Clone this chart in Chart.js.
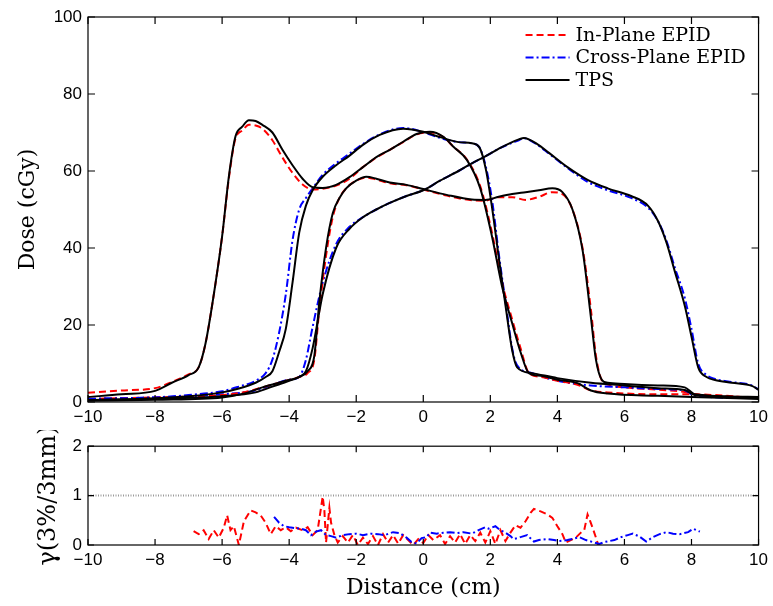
<!DOCTYPE html>
<html>
<head>
<meta charset="utf-8">
<script src="https://cdn.jsdelivr.net/npm/chart.js@4.4.1/dist/chart.umd.min.js"></script>
<style>
  body { margin: 0; background: #fff; width: 773px; height: 606px; overflow: hidden; position: relative; }
  #doseCanvas { position: absolute; left: 0; top: 0; }
  #gammaCanvas { position: absolute; left: 0; top: 430px; }
</style>
</head>
<body>
<canvas id="doseCanvas" width="773" height="430"></canvas>
<canvas id="gammaCanvas" width="773" height="176"></canvas>
<script>
// axis ticks
const DIST_TICKS = [-10, -8, -6, -4, -2, 0, 2, 4, 6, 8, 10];
const DOSE_TICKS = [0, 20, 40, 60, 80, 100];
const GAMMA_TICKS = [0, 1, 2];
const GAMMA_LIMIT = 1;
const SERIES_LABELS = ['In-Plane EPID', 'Cross-Plane EPID', 'TPS'];

// profile 1 (in-plane, left field)
const P1_X    = [-10, -9, -8, -7.5, -7, -6.7, -6.5, -6.3, -6.0, -5.8, -5.6, -5.4, -5.2, -5.0, -4.8, -4.5, -4.2, -3.9, -3.6, -3.3, -3.0, -2.6, -2.2, -1.8, -1.4, -1.0, -0.6, -0.2, 0.2, 0.6, 0.9, 1.3, 1.7, 2.05, 2.35, 2.65, 2.9, 3.15, 3.5, 4.0, 4.6, 5.0, 5.5, 7.0, 8.0, 10];
const P1_TPS  = [1.3, 2.0, 2.9, 5.0, 7.0, 9.0, 15, 25, 43, 58.5, 69, 71.5, 73.2, 73, 72, 70, 65.5, 61.5, 58, 55.8, 55.6, 56.4, 58.4, 61, 63.6, 65.5, 67.6, 69.6, 70.2, 68.9, 66.3, 62.9, 55.5, 43, 30, 20.5, 13, 7.5, 6.8, 5.8, 4.9, 3.0, 2.2, 1.6, 1.3, 0.8];
const P1_EPID = [2.4, 3.0, 3.6, 5.2, 7.2, 9.0, 15, 25, 43, 58, 68.5, 70.5, 72, 71.8, 71, 68, 63.5, 59.5, 56.5, 55.2, 55.4, 56.2, 58, 61, 63.5, 65.5, 67.5, 69.5, 70, 68.8, 66.3, 63, 56, 44, 31, 21.5, 14, 7.5, 6.5, 5.5, 4.5, 3.0, 2.5, 2.0, 2.0, 1.0];

// profile 2 (cross-plane, central field)
const P2_X    = [-10, -8, -7, -6, -5.5, -5, -4.7, -4.5, -4.3, -4.1, -3.9, -3.7, -3.5, -3.3, -3.0, -2.6, -2.2, -1.8, -1.3, -0.6, 0.0, 0.5, 1.05, 1.45, 1.67, 1.87, 2.06, 2.26, 2.47, 2.65, 2.8, 3.25, 4.0, 5.0, 6.0, 7.0, 7.8, 8.1, 10];
const P2_TPS  = [0.5, 1.0, 1.5, 2.5, 3.5, 5, 6.5, 8, 13, 19, 31, 44, 51, 55, 58.5, 61.5, 64, 66.8, 69.4, 71, 70.2, 68.8, 67.5, 67.2, 66.2, 60.3, 50, 37, 24, 13.5, 9, 7.5, 6.2, 5.0, 4.3, 3.6, 3.1, 1.8, 1.2];
const P2_EPID = [0.8, 1.2, 1.8, 2.8, 4, 5.5, 7.5, 11, 18, 28, 42, 50, 53, 55.5, 59, 62, 64.5, 67, 69.5, 71.2, 70.1, 68.6, 67.5, 67.2, 66.2, 61, 52, 38, 25, 14, 9.5, 7.5, 5.5, 4.3, 3.8, 3.4, 3.0, 1.6, 1.0];

// profile 3 (in-plane, flat field)
const P3_X    = [-10, -8, -6, -5.3, -4.8, -4.1, -3.7, -3.45, -3.25, -3.1, -2.9, -2.7, -2.5, -2.3, -2.0, -1.7, -1.4, -1.0, -0.5, 0.0, 0.7, 1.45, 1.85, 2.25, 2.65, 3.05, 3.45, 3.85, 4.15, 4.45, 4.75, 5.0, 5.15, 5.33, 5.5, 6.0, 7.0, 7.8, 8.1, 10];
const P3_TPS  = [0.3, 0.6, 1.2, 2.3, 3.8, 5.5, 6.5, 8, 12, 26, 40, 49, 53, 55.5, 57.5, 58.5, 58, 57, 56.4, 55.3, 53.8, 52.6, 52.5, 53.3, 54, 54.5, 55, 55.5, 54.5, 50, 39.5, 22, 11, 5.7, 5, 4.7, 4.3, 3.8, 2, 1.3];
const P3_EPID = [0.8, 1.2, 1.8, 2.6, 3.8, 5.5, 6.5, 7.5, 11, 24, 38, 48, 53, 55.5, 57.5, 58.3, 57.8, 56.8, 56.3, 55.2, 53.6, 52.4, 52.3, 53.2, 53.2, 52.5, 53.3, 54.5, 54, 50, 40, 24, 12, 5.5, 4.5, 3.8, 3.2, 2.6, 2, 1.2];

// profile 4 (cross-plane, right field)
const P4_X    = [-10, -8, -6, -5, -4.5, -4.0, -3.7, -3.5, -3.3, -3.0, -2.6, -2.2, -1.8, -1.4, -1.0, -0.5, 0.0, 0.5, 1.05, 1.45, 1.85, 2.3, 2.85, 3.0, 3.4, 3.75, 4.3, 4.9, 5.5, 6.2, 6.7, 7.0, 7.25, 7.5, 7.8, 8.0, 8.2, 8.45, 8.7, 9.2, 9.8, 10];
const P4_TPS  = [0.5, 0.8, 1.5, 2.5, 4, 5.5, 6.5, 8, 14, 28, 40, 45, 48, 50, 51.7, 53.5, 55, 57.5, 60, 62, 63.8, 66, 68.2, 68.6, 67, 64.7, 61, 57.7, 55.5, 53.5, 51, 47, 41.5, 34, 25, 17, 9, 6.5, 5.7, 5, 4.2, 3.2];
const P4_EPID = [0.8, 1.2, 2, 3, 4.5, 5.8, 6.5, 11, 19.5, 31, 41, 45.5, 48, 50, 51.7, 53.5, 55, 57.5, 60, 62, 63.8, 66, 68, 68.5, 66.8, 64.5, 60.8, 57.2, 55, 53, 50.5, 47, 42, 35, 27, 19, 10, 7, 6, 5.2, 4.3, 3.2];

// gamma index, in-plane
const GAMMA_IN_X = [-6.85, -6.7, -6.55, -6.4, -6.25, -6.1, -5.95, -5.85, -5.75, -5.65, -5.5, -5.35, -5.15, -5.0, -4.85, -4.7, -4.55, -4.4, -4.25, -4.1, -3.95, -3.8, -3.6, -3.45, -3.3, -3.15, -3.0, -2.95, -2.9, -2.8, -2.75, -2.65, -2.55, -2.4, -2.25, -2.1, -1.95, -1.8, -1.65, -1.5, -1.35, -1.2, -1.05, -0.9, -0.75, -0.6, -0.45, -0.3, -0.15, 0.0, 0.15, 0.3, 0.5, 0.65, 0.8, 0.95, 1.1, 1.25, 1.4, 1.55, 1.7, 1.85, 2.0, 2.15, 2.3, 2.45, 2.6, 2.75, 2.9, 3.05, 3.2, 3.3, 3.5, 3.7, 3.85, 4.0, 4.15, 4.25, 4.4, 4.55, 4.7, 4.8, 4.9, 4.97, 5.05, 5.15, 5.22];
const GAMMA_IN   = [0.28, 0.22, 0.3, 0.12, 0.3, 0.15, 0.35, 0.6, 0.3, 0.38, 0.0, 0.48, 0.7, 0.66, 0.6, 0.45, 0.22, 0.38, 0.3, 0.36, 0.28, 0.35, 0.3, 0.36, 0.2, 0.3, 0.98, 0.7, 0.05, 0.75, 0.45, 0.2, 0.05, 0.18, 0.05, 0.2, 0.0, 0.15, 0.02, 0.18, 0.0, 0.22, 0.05, 0.2, 0.03, 0.2, 0.1, 0.0, 0.12, 0.04, 0.2, 0.1, 0.2, 0.02, 0.18, 0.05, 0.22, 0.02, 0.2, 0.08, 0.25, 0.05, 0.28, 0.02, 0.3, 0.08, 0.25, 0.4, 0.35, 0.48, 0.65, 0.73, 0.68, 0.62, 0.55, 0.38, 0.22, 0.05, 0.1, 0.15, 0.25, 0.3, 0.62, 0.5, 0.35, 0.15, 0.0];

// gamma index, cross-plane
const GAMMA_CROSS_X = [-4.45, -4.3, -4.15, -4.0, -3.8, -3.65, -3.5, -3.35, -3.2, -3.05, -2.9, -2.75, -2.6, -2.4, -2.2, -2.0, -1.8, -1.55, -1.35, -1.15, -0.9, -0.7, -0.5, -0.35, -0.2, -0.05, 0.1, 0.2, 0.4, 0.6, 0.8, 1.0, 1.2, 1.45, 1.65, 1.85, 1.95, 2.15, 2.3, 2.45, 2.6, 2.7, 2.9, 3.1, 3.3, 3.45, 3.7, 3.9, 4.05, 4.3, 4.5, 4.65, 4.85, 5.05, 5.25, 5.4, 5.7, 5.9, 6.1, 6.25, 6.45, 6.65, 6.85, 7.05, 7.25, 7.45, 7.65, 7.9, 8.05, 8.25];
const GAMMA_CROSS   = [0.57, 0.45, 0.38, 0.36, 0.34, 0.33, 0.3, 0.2, 0.27, 0.3, 0.2, 0.18, 0.15, 0.2, 0.22, 0.23, 0.2, 0.23, 0.22, 0.2, 0.26, 0.24, 0.15, 0.06, 0.03, 0.14, 0.16, 0.25, 0.23, 0.25, 0.26, 0.24, 0.26, 0.23, 0.3, 0.36, 0.33, 0.38, 0.3, 0.25, 0.18, 0.12, 0.16, 0.2, 0.07, 0.1, 0.12, 0.1, 0.08, 0.1, 0.13, 0.16, 0.1, 0.06, 0.02, 0.06, 0.1, 0.16, 0.2, 0.23, 0.17, 0.07, 0.16, 0.22, 0.26, 0.23, 0.22, 0.26, 0.33, 0.27];

const RED = '#ff0000';
const BLUE = '#0000ff';
const BLACK = '#000000';
const RED_DASH = [7, 4];
const BLUE_DASH = [8, 3, 2, 3];
const TICK_FONT = { family: '"Liberation Sans", Arial, sans-serif', size: 17 };
const TITLE_FONT = { family: '"DejaVu Serif", serif', size: 22 };

const toPts = (xs, ys) => xs.map((x, i) => ({ x, y: ys[i] }));
const minusFmt = (v) => (v < 0 ? '\u2212' + Math.abs(v) : String(v));

function lineSet(label, xs, ys, color, dash, order, smooth) {
  return {
    label,
    data: toPts(xs, ys),
    borderColor: color,
    backgroundColor: color,
    borderWidth: 2,
    borderDash: dash,
    pointRadius: 0,
    fill: false,
    order,
    tension: 0,
    cubicInterpolationMode: smooth ? 'monotone' : 'default',
  };
}

// MATLAB-style box with inward ticks on all four sides
const framePlugin = {
  id: 'frame',
  afterDatasetsDraw(chart, args, opts) {
    const { ctx, chartArea: a, scales: { x, y } } = chart;
    const len = opts.tick || 7;
    ctx.save();
    ctx.strokeStyle = BLACK;
    ctx.lineWidth = 1.2;
    ctx.setLineDash([]);
    ctx.strokeRect(a.left, a.top, a.right - a.left, a.bottom - a.top);
    ctx.beginPath();
    for (const t of x.ticks) {
      const px = x.getPixelForValue(t.value);
      ctx.moveTo(px, a.bottom); ctx.lineTo(px, a.bottom - len);
      ctx.moveTo(px, a.top); ctx.lineTo(px, a.top + len);
    }
    for (const t of y.ticks) {
      const py = y.getPixelForValue(t.value);
      ctx.moveTo(a.left, py); ctx.lineTo(a.left + len, py);
      ctx.moveTo(a.right, py); ctx.lineTo(a.right - len, py);
    }
    ctx.stroke();
    ctx.restore();
  },
};

const legendPlugin = {
  id: 'matLegend',
  afterDraw(chart) {
    const { ctx, chartArea: a } = chart;
    const styles = [
      { c: RED, d: RED_DASH },
      { c: BLUE, d: BLUE_DASH },
      { c: BLACK, d: [] },
    ];
    ctx.save();
    ctx.font = '19px "DejaVu Serif", serif';
    ctx.textBaseline = 'middle';
    ctx.fillStyle = BLACK;
    SERIES_LABELS.forEach((lab, i) => {
      const yy = a.top + 18 + i * 22.5;
      const x0 = a.right - 233;
      ctx.strokeStyle = styles[i].c;
      ctx.setLineDash(styles[i].d);
      ctx.lineWidth = 2;
      ctx.beginPath();
      ctx.moveTo(x0, yy);
      ctx.lineTo(x0 + 44, yy);
      ctx.stroke();
      ctx.fillText(lab, x0 + 50, yy + 1);
    });
    ctx.restore();
  },
};

function xScale(height, title) {
  return {
    type: 'linear',
    min: -10,
    max: 10,
    afterBuildTicks: (s) => { s.ticks = DIST_TICKS.map((v) => ({ value: v })); },
    afterFit: (s) => { s.height = height; },
    ticks: { font: TICK_FONT, color: BLACK, padding: 5, maxRotation: 0, autoSkip: false, callback: minusFmt },
    grid: { drawOnChartArea: false, drawTicks: false },
    border: { display: false },
    title: title
      ? { display: true, text: title, font: TITLE_FONT, color: BLACK, padding: { top: 0, bottom: 5 } }
      : { display: false },
  };
}

function yScale(min, max, tickVals, title, titleSize, titlePad) {
  return {
    min,
    max,
    afterBuildTicks: (s) => { s.ticks = tickVals.map((v) => ({ value: v })); },
    afterFit: (s) => { s.width = 88; },
    ticks: { font: TICK_FONT, color: BLACK, padding: 6, autoSkip: false },
    grid: { drawOnChartArea: false, drawTicks: false },
    border: { display: false },
    title: {
      display: true,
      text: title,
      font: { family: TITLE_FONT.family, size: titleSize },
      color: BLACK,
      padding: { top: titlePad, bottom: 0 },
    },
  };
}

new Chart(document.getElementById('doseCanvas'), {
  type: 'line',
  data: {
    datasets: [
      lineSet('TPS', P1_X, P1_TPS, BLACK, [], 0, true),
      lineSet('TPS', P2_X, P2_TPS, BLACK, [], 0, true),
      lineSet('TPS', P3_X, P3_TPS, BLACK, [], 0, true),
      lineSet('TPS', P4_X, P4_TPS, BLACK, [], 0, true),
      lineSet('In-Plane EPID', P1_X, P1_EPID, RED, RED_DASH, 1, true),
      lineSet('Cross-Plane EPID', P2_X, P2_EPID, BLUE, BLUE_DASH, 1, true),
      lineSet('In-Plane EPID', P3_X, P3_EPID, RED, RED_DASH, 1, true),
      lineSet('Cross-Plane EPID', P4_X, P4_EPID, BLUE, BLUE_DASH, 1, true),
    ],
  },
  options: {
    responsive: false,
    animation: false,
    layout: { padding: { left: 0, right: 13, top: 17, bottom: 0 } },
    scales: {
      x: xScale(28, null),
      y: yScale(0, 100, DOSE_TICKS, 'Dose (cGy)', 22, 15),
    },
    plugins: { legend: { display: false }, tooltip: { enabled: false }, frame: { tick: 7 } },
  },
  plugins: [framePlugin, legendPlugin],
});

new Chart(document.getElementById('gammaCanvas'), {
  type: 'line',
  data: {
    datasets: [
      lineSet('limit', [-10, 10], [GAMMA_LIMIT, GAMMA_LIMIT], '#9a9a9a', [1, 1.5], 2, false),
      lineSet('In-Plane EPID', GAMMA_IN_X, GAMMA_IN, RED, RED_DASH, 1, false),
      lineSet('Cross-Plane EPID', GAMMA_CROSS_X, GAMMA_CROSS, BLUE, BLUE_DASH, 0, false),
    ],
  },
  options: {
    responsive: false,
    animation: false,
    layout: { padding: { left: 0, right: 13, top: 14, bottom: 0 } },
    scales: {
      x: xScale(61, 'Distance (cm)'),
      y: yScale(0, 2, GAMMA_TICKS, '\u03b3(3%/3mm)', 24, 34),
    },
    plugins: { legend: { display: false }, tooltip: { enabled: false }, frame: { tick: 6 } },
  },
  plugins: [framePlugin],
});
</script>
</body>
</html>
